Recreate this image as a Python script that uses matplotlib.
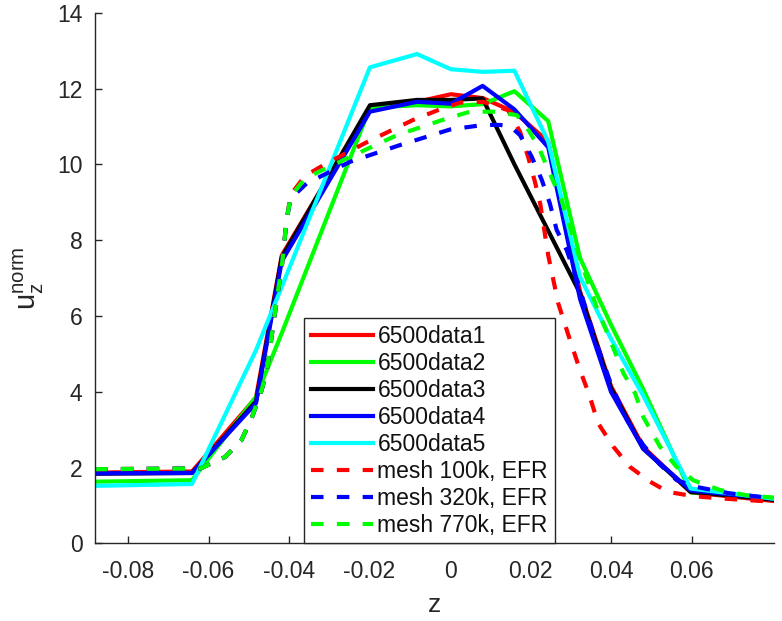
import matplotlib
matplotlib.use("Agg")
import matplotlib.pyplot as plt

# Measured profiles (solid lines), shared z positions
z_exp = [-0.0882, -0.0641, -0.0482, -0.0418, -0.0199, -0.0082, 0.0002, 0.0081,
         0.0160, 0.0244, 0.0323, 0.0400, 0.0480, 0.0598, 0.0805]
data1 = [1.87, 1.90, 3.85, 7.60, 11.50, 11.65, 11.85, 11.75, 11.38, 10.60, 6.65, 4.15, 2.55, 1.35, 1.12]
data2 = [1.63, 1.67, 3.87, 5.55, 11.50, 11.56, 11.53, 11.59, 11.93, 11.14, 7.53, 5.77, 4.07, 1.35, 1.20]
data3 = [1.84, 1.86, 3.75, 7.55, 11.56, 11.70, 11.70, 11.74, 10.00, 8.25, 6.60, 4.10, 2.50, 1.36, 1.15]
data4 = [1.85, 1.86, 3.70, 7.45, 11.39, 11.65, 11.60, 12.07, 11.45, 10.45, 6.45, 4.00, 2.50, 1.40, 1.18]
data5 = [1.52, 1.57, 5.10, 6.77, 12.56, 12.91, 12.51, 12.44, 12.47, 10.60, 7.03, 5.40, 3.90, 1.45, 1.18]

# Simulation profiles (dashed lines)
z_100k = [-0.0882, -0.0620, -0.0559, -0.0518, -0.0493, -0.0468, -0.0455, -0.0427, -0.0418,
          -0.0406, -0.0396, -0.0360, -0.0306, -0.0204, -0.0092, -0.0030, 0.0025, 0.0082,
          0.0144, 0.0174, 0.0194, 0.0211, 0.0224, 0.0244, 0.0269, 0.0294, 0.0323, 0.0345,
          0.0368, 0.0406, 0.0447, 0.0497, 0.0542, 0.0604, 0.0671, 0.0805]
u_100k = [1.96, 1.98, 2.28, 2.73, 3.30, 4.05, 4.57, 6.68, 7.30,
          8.53, 9.20, 9.70, 10.03, 10.60, 11.17, 11.43, 11.63, 11.65,
          11.43, 10.86, 10.20, 9.54, 8.97, 7.60, 6.33, 5.50, 4.57, 3.95,
          3.17, 2.55, 2.02, 1.63, 1.36, 1.25, 1.19, 1.10]

z_320k = [-0.0882, -0.0620, -0.0559, -0.0518, -0.0493, -0.0468, -0.0455, -0.0427, -0.0418,
          -0.0406, -0.0396, -0.0356, -0.0248, -0.0124, 0.0000, 0.0083, 0.0124, 0.0150,
          0.0174, 0.0203, 0.0228, 0.0248, 0.0265, 0.0290, 0.0320, 0.0360, 0.0400, 0.0440,
          0.0480, 0.0520, 0.0563, 0.0613, 0.0696, 0.0805]
u_320k = [1.96, 1.98, 2.28, 2.73, 3.30, 4.05, 4.57, 6.68, 7.30,
          8.53, 9.10, 9.50, 10.07, 10.51, 10.92, 11.04, 11.04, 11.00,
          10.77, 10.20, 9.59, 8.97, 8.27, 7.74, 6.80, 5.40, 4.20, 3.25,
          2.60, 2.10, 1.67, 1.49, 1.32, 1.19]

z_770k = [-0.0882, -0.0620, -0.0559, -0.0518, -0.0493, -0.0468, -0.0455, -0.0427, -0.0418,
          -0.0406, -0.0396, -0.0360, -0.0248, -0.0132, -0.0008, 0.0050, 0.0108, 0.0166,
          0.0195, 0.0220, 0.0248, 0.0277, 0.0320, 0.0364, 0.0398, 0.0431, 0.0460, 0.0480,
          0.0522, 0.0563, 0.0604, 0.0671, 0.0737, 0.0805]
u_770k = [1.96, 1.98, 2.28, 2.73, 3.30, 4.05, 4.57, 6.68, 7.30,
          8.53, 9.15, 9.63, 10.20, 10.77, 11.21, 11.39, 11.39, 11.30,
          10.90, 10.46, 9.76, 9.06, 7.60, 6.24, 5.36, 4.49, 3.96, 3.34,
          2.55, 2.02, 1.67, 1.41, 1.27, 1.21]

labels = ["6500data1", "6500data2", "6500data3", "6500data4", "6500data5",
          "mesh 100k, EFR", "mesh 320k, EFR", "mesh 770k, EFR"]

plt.rcParams["font.family"] = ["Liberation Sans", "DejaVu Sans"]
plt.rcParams["font.size"] = 16.5
ax_col = "#262626"

fig = plt.figure(figsize=(7.82, 6.21), dpi=100)
ax = fig.add_axes([0.1215, 0.1248, 0.8683, 0.8547])

lw = 3
for y, c, lab in zip([data1, data2, data3, data4, data5],
                     ["#ff0000", "#00ff00", "#000000", "#0000ff", "#00ffff"], labels[:5]):
    ax.plot(z_exp, y, color=c, lw=lw, label=lab)
for z, y, c, lab in zip([z_100k, z_320k, z_770k], [u_100k, u_320k, u_770k],
                        ["#ff0000", "#0000ff", "#00ff00"], labels[5:]):
    ax.plot(z, y, color=c, lw=lw, linestyle=(0, (3, 3.2)), label=lab)

ax.set_xlim(-0.0882, 0.0805)
ax.set_ylim(0, 14)
ax.set_xticks([-0.08, -0.06, -0.04, -0.02, 0, 0.02, 0.04, 0.06])
ax.set_xticklabels(["-0.08", "-0.06", "-0.04", "-0.02", "0", "0.02", "0.04", "0.06"])
ax.set_yticks(range(0, 15, 2))

for side in ["top", "right"]:
    ax.spines[side].set_visible(False)
for side in ["left", "bottom"]:
    ax.spines[side].set_color(ax_col)
    ax.spines[side].set_linewidth(1)
ax.tick_params(direction="in", length=5, width=1, color=ax_col, labelcolor=ax_col)
ax.tick_params(axis="x", pad=12)
ax.tick_params(axis="y", pad=9)

ax.set_xlabel("z", color=ax_col, fontsize=19, labelpad=7)
ax.set_ylabel(r"$\mathregular{u_z^{norm}}$", color=ax_col, fontsize=21, labelpad=8)

leg = ax.legend(loc="lower left", bbox_to_anchor=(0.308, 0.0), borderaxespad=0,
                fancybox=False, framealpha=1, edgecolor=ax_col, handlelength=2.7,
                handletextpad=0.2, labelspacing=0.17, borderpad=0.3, fontsize=16.5)
leg.get_frame().set_linewidth(1)
for t in leg.get_texts():
    t.set_color("#111111")

fig.savefig("out.png", dpi=100)
